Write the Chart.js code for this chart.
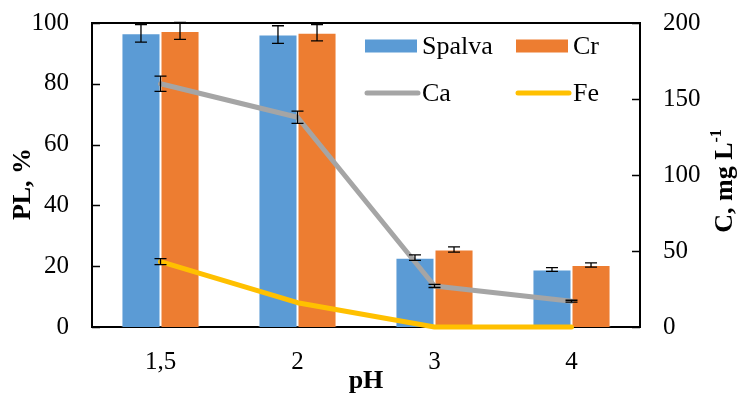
<!DOCTYPE html>
<html>
<head>
<meta charset="utf-8">
<script src="https://cdn.jsdelivr.net/npm/chart.js@4.4.1/dist/chart.umd.min.js"></script>
<style>
  html, body { margin: 0; padding: 0; background: #ffffff; }
  #wrap { width: 737px; height: 397px; }
</style>
</head>
<body>
<div id="wrap"><canvas id="chart" width="737" height="397"></canvas></div>
<script>
// pH categories
const phLabels = ['1,5', '2', '3', '4'];

// Leaching percentage (left axis, %)
const spalva = [96.6, 96.2, 22.8, 18.9];
const spalvaErr = [2.9, 2.9, 0.9, 0.6];
const cr = [97.4, 96.8, 25.5, 20.4];
const crErr = [2.8, 2.7, 0.85, 0.7];

// Concentrations (right axis, mg/L)
const ca = [160, 138, 27, 17];
const caErr = [5, 4, 1, 0.6];
const fe = [43, 16, 0, 0];
const feErr = [2, 0, 0, 0];

// Axis tick values
const plTicks = [0, 20, 40, 60, 80, 100];
const cTicks = [0, 50, 100, 150, 200];

const SERIF = '"Liberation Serif", "Times New Roman", serif';

// Plot frame and inward tick marks, under the data
const frame = {
  id: 'frame',
  beforeDatasetsDraw(chart) {
    const ctx = chart.ctx;
    const a = chart.chartArea;
    ctx.save();
    ctx.strokeStyle = '#000000';
    ctx.lineWidth = 1.5;
    const yL = chart.scales.y, yR = chart.scales.y1;
    ctx.beginPath();
    yL.ticks.forEach(t => {
      const p = Math.round(yL.getPixelForValue(t.value)) + 0.5;
      ctx.moveTo(a.left, p); ctx.lineTo(a.left + 8, p);
    });
    yR.ticks.forEach(t => {
      const p = Math.round(yR.getPixelForValue(t.value)) + 0.5;
      ctx.moveTo(a.right - 8, p); ctx.lineTo(a.right, p);
    });
    ctx.stroke();
    ctx.lineWidth = 2;
    ctx.strokeRect(a.left, a.top, a.right - a.left, a.bottom - a.top);
    ctx.restore();
  }
};

// Error bars with caps, drawn on top of the bars and lines
const errorBars = {
  id: 'errorBars',
  afterDatasetsDraw(chart) {
    const ctx = chart.ctx;
    ctx.save();
    ctx.strokeStyle = '#000000';
    ctx.lineWidth = 1.3;
    chart.data.datasets.forEach((ds, di) => {
      if (!ds.errors) return;
      const meta = chart.getDatasetMeta(di);
      const scale = chart.scales[meta.yAxisID];
      meta.data.forEach((el, i) => {
        const e = ds.errors[i];
        if (!e) return;
        const v = ds.data[i];
        const yTop = scale.getPixelForValue(v + e);
        const yBot = scale.getPixelForValue(v - e);
        const x = el.x;
        const cap = 6;
        ctx.beginPath();
        ctx.moveTo(x, yTop); ctx.lineTo(x, yBot);
        ctx.moveTo(x - cap, yTop); ctx.lineTo(x + cap, yTop);
        ctx.moveTo(x - cap, yBot); ctx.lineTo(x + cap, yBot);
        ctx.stroke();
      });
    });
    ctx.restore();
  }
};

// Legend and vertical axis titles
const decorations = {
  id: 'decorations',
  afterDraw(chart) {
    const ctx = chart.ctx;
    const a = chart.chartArea;
    ctx.save();

    // legend (two columns inside the plot)
    const ds = chart.data.datasets;
    const items = [
      { d: ds[0], x: a.left + 273, y: a.top + 23, kind: 'box' },
      { d: ds[1], x: a.left + 424, y: a.top + 23, kind: 'box' },
      { d: ds[2], x: a.left + 273, y: a.top + 70, kind: 'line' },
      { d: ds[3], x: a.left + 424, y: a.top + 70, kind: 'line' }
    ];
    ctx.font = '26px ' + SERIF;
    ctx.textBaseline = 'middle';
    ctx.textAlign = 'left';
    items.forEach(it => {
      if (it.kind === 'box') {
        ctx.fillStyle = it.d.backgroundColor;
        ctx.fillRect(it.x, it.y - 6.5, 52, 13);
      } else {
        ctx.strokeStyle = it.d.borderColor;
        ctx.lineWidth = 5;
        ctx.lineCap = 'round';
        ctx.beginPath();
        ctx.moveTo(it.x + 2, it.y); ctx.lineTo(it.x + 53, it.y);
        ctx.stroke();
      }
      ctx.fillStyle = '#000000';
      ctx.fillText(it.d.label, it.x + 57, it.y + 1);
    });

    // left axis title
    const midY = (a.top + a.bottom) / 2;
    ctx.fillStyle = '#000000';
    ctx.font = 'bold 26px ' + SERIF;
    ctx.textAlign = 'center';
    ctx.save();
    ctx.translate(23, midY + 9);
    ctx.rotate(-Math.PI / 2);
    ctx.fillText('PL, %', 0, 0);
    ctx.restore();

    // right axis title with superscript
    ctx.save();
    ctx.translate(chart.width - 12, midY + 6);
    ctx.rotate(-Math.PI / 2);
    ctx.textAlign = 'left';
    const main = 'C, mg L', sup = '-1';
    ctx.font = 'bold 26px ' + SERIF;
    const w1 = ctx.measureText(main).width;
    ctx.font = 'bold 16px ' + SERIF;
    const w2 = ctx.measureText(sup).width;
    const start = -(w1 + w2) / 2;
    ctx.font = 'bold 26px ' + SERIF;
    ctx.fillText(main, start, 0);
    ctx.font = 'bold 16px ' + SERIF;
    ctx.fillText(sup, start + w1, -8);
    ctx.restore();

    ctx.restore();
  }
};

const tickFont = { family: SERIF, size: 25 };

// fixed axis box sizes, with no extra room for overhanging labels
function fixBox(size, horizontal) {
  return s => {
    if (horizontal) s.height = size; else s.width = size;
    s.paddingTop = 0; s.paddingBottom = 0;
    s.paddingLeft = 0; s.paddingRight = 0;
  };
}

new Chart(document.getElementById('chart'), {
  type: 'bar',
  data: {
    labels: phLabels,
    datasets: [
      {
        label: 'Spalva', data: spalva, errors: spalvaErr, yAxisID: 'y', order: 2,
        backgroundColor: '#5B9BD5', borderColor: 'rgba(255,255,255,0.35)', borderWidth: 1,
        categoryPercentage: 0.57, barPercentage: 1.0
      },
      {
        label: 'Cr', data: cr, errors: crErr, yAxisID: 'y', order: 2,
        backgroundColor: '#ED7D31', borderColor: 'rgba(255,255,255,0.35)', borderWidth: 1,
        categoryPercentage: 0.57, barPercentage: 1.0
      },
      {
        type: 'line', label: 'Ca', data: ca, errors: caErr, yAxisID: 'y1', order: 1,
        borderColor: '#A5A5A5', backgroundColor: '#A5A5A5', borderWidth: 5,
        pointRadius: 0, tension: 0, fill: false, clip: false,
        borderCapStyle: 'round', borderJoinStyle: 'round'
      },
      {
        type: 'line', label: 'Fe', data: fe, errors: feErr, yAxisID: 'y1', order: 0,
        borderColor: '#FFC000', backgroundColor: '#FFC000', borderWidth: 5,
        pointRadius: 0, tension: 0, fill: false, clip: false,
        borderCapStyle: 'round', borderJoinStyle: 'round'
      }
    ]
  },
  options: {
    responsive: false,
    devicePixelRatio: 1,
    animation: false,
    layout: { padding: { top: 23, left: 0, right: 0, bottom: 0 } },
    plugins: {
      legend: { display: false },
      tooltip: { enabled: false }
    },
    scales: {
      x: {
        grid: { display: false, drawTicks: false },
        border: { display: false },
        ticks: { font: tickFont, color: '#000000', padding: 20, maxRotation: 0 },
        title: { display: true, text: 'pH', color: '#000000', font: { family: SERIF, size: 26, weight: 'bold' }, padding: 0 },
        afterFit: fixBox(70, true)
      },
      y: {
        position: 'left', min: 0, max: 100,
        grid: { display: false, drawTicks: false },
        border: { display: false },
        ticks: { font: tickFont, color: '#000000', padding: 23 },
        afterBuildTicks(s) { s.ticks = plTicks.map(v => ({ value: v })); },
        afterFit: fixBox(92, false)
      },
      y1: {
        position: 'right', min: 0, max: 200,
        grid: { display: false, drawTicks: false },
        border: { display: false },
        ticks: { font: tickFont, color: '#000000', padding: 23 },
        afterBuildTicks(s) { s.ticks = cTicks.map(v => ({ value: v })); },
        afterFit: fixBox(97, false)
      }
    }
  },
  plugins: [frame, errorBars, decorations]
});
</script>
</body>
</html>
